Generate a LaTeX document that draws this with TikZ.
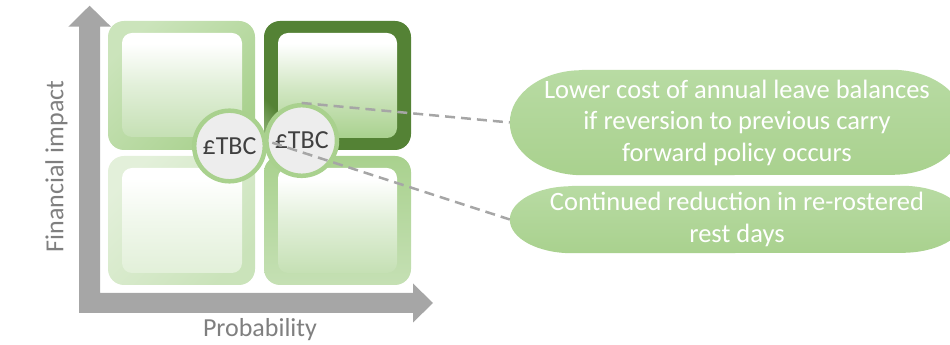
\documentclass[tikz,border=0pt]{standalone}
\usepackage{fontspec}
\setmainfont{Carlito}
\usetikzlibrary{calc,backgrounds}
\definecolor{axisgray}{HTML}{A6A6A6}
\definecolor{dkgreen}{HTML}{548235}
\definecolor{trlight}{HTML}{A3C48E}
\definecolor{gA}{HTML}{A9D18E}
\definecolor{gB}{HTML}{C5E0B4}
\definecolor{gC}{HTML}{E2F0D9}
\definecolor{tlLight}{HTML}{CBE4BB}
\definecolor{blLight}{HTML}{E3F0DA}
\definecolor{blDark}{HTML}{CAE3BA}
\definecolor{circfill}{HTML}{EDEDED}
\definecolor{textdark}{HTML}{404040}
\definecolor{labelgray}{HTML}{7F7F7F}
\definecolor{pilltop}{HTML}{B8DBA3}
\pgfdeclareverticalshading{innerTL}{100bp}{color(0bp)=(gB); color(25bp)=(gB); color(50bp)=(gB!50!white); color(70bp)=(white); color(100bp)=(white)}
\pgfdeclareverticalshading{innerTR}{100bp}{color(0bp)=(gA); color(25bp)=(gA); color(50bp)=(gA!50!white); color(70bp)=(white); color(100bp)=(white)}
\pgfdeclareverticalshading{innerBL}{100bp}{color(0bp)=(gC); color(25bp)=(gC); color(50bp)=(gC!50!white); color(70bp)=(white); color(100bp)=(white)}
\pgfdeclareverticalshading{innerBR}{100bp}{color(0bp)=(gB); color(25bp)=(gB); color(50bp)=(gB!50!white); color(70bp)=(white); color(100bp)=(white)}
\pgfdeclarehorizontalshading{ringTR}{100bp}{color(0bp)=(trlight); color(15bp)=(trlight); color(28bp)=(dkgreen); color(100bp)=(dkgreen)}
\begin{document}
\begin{tikzpicture}[x=1pt,y=1pt,
  outerbox/.style={rounded corners=16pt},
  innerbox/.style={rounded corners=10pt, shade},
  tbc/.style={circle, draw=gA, line width=4.5pt, fill=circfill, minimum size=70.6pt, inner sep=0pt,
    font=\fontsize{26}{30}\selectfont, text=textdark},
  pilltext/.style={align=center, inner sep=0pt, text=white, font=\fontsize{26.5}{31.5}\selectfont},
  pillfill/.style={top color=pilltop, bottom color=gA},
  dashline/.style={draw=axisgray, line width=2.5pt, dash pattern=on 10pt off 6pt},
  axislabel/.style={text=labelgray, font=\fontsize{26}{30}\selectfont, inner sep=0pt}]
\useasboundingbox (0,0) rectangle (950,345);
\clip (0,0) rectangle (950,345);
% axes
\fill[axisgray] (68.3,318.3) -- (89.6,339.3) -- (111,318.3) -- (100,318.3) -- (100,52) -- (413,52)
  -- (413,61.5) -- (433,42) -- (413,22.5) -- (413,32) -- (79,32) -- (79,318.3) -- cycle;
% quadrants
\path[outerbox, top color=tlLight, bottom color=gA, shading angle=45] (108,195) rectangle (255,324);
\path[innerbox, shading=innerTL] (122,208) rectangle (242,312);
\path[outerbox, shade, shading=ringTR, shading angle=45] (264,195) rectangle (411,324);
\path[innerbox, shading=innerTR] (278,207) rectangle (397,312);
\path[outerbox, top color=blLight, bottom color=blDark, shading angle=45] (108,60) rectangle (255,189);
\path[innerbox, shading=innerBL] (122,72) rectangle (242,177);
\path[outerbox, top color=gA, bottom color=gB] (264,60) rectangle (411,189);
\path[innerbox, shading=innerBR] (278,72) rectangle (397,177);
% circles
\node[tbc] (lc) at (229.5,199) {£TBC};
\node[tbc] (rc) at (301.7,204.5) {£TBC};
% pills
\node[pilltext, minimum width=454pt, minimum height=105pt] (p1) at (737,222.5)
  {Lower cost of annual leave balances\\if reversion to previous carry\\forward policy occurs};
\node[pilltext, minimum width=454pt, minimum height=67pt] (p2) at (737,125.5)
  {Continued reduction in re-rostered\\rest days};
\begin{scope}[on background layer]
\path[pillfill] ($(p1.north west)+(72,0)$) -- ($(p1.north east)+(-72,0)$)
  arc[start angle=90, end angle=-90, x radius=72pt, y radius=52.5pt]
  -- ($(p1.south west)+(72,0)$)
  arc[start angle=270, end angle=90, x radius=72pt, y radius=52.5pt] -- cycle;
\path[pillfill] ($(p2.north west)+(62,0)$) -- ($(p2.north east)+(-62,0)$)
  arc[start angle=90, end angle=-90, x radius=62pt, y radius=33.5pt]
  -- ($(p2.south west)+(62,0)$)
  arc[start angle=270, end angle=90, x radius=62pt, y radius=33.5pt] -- cycle;
\end{scope}
% connectors
\coordinate (s2) at (272.3,202.3);
\draw[dashline] (rc.north) -- (p1.west);
\draw[dashline] (s2) -- (p2.west);
% axis labels
\node[axislabel, anchor=base] (xl) at (260,8.3) {Probability};
\node[axislabel, anchor=base, rotate=90] (yl) at (63.3,178.5) {Financial impact};
\end{tikzpicture}
\end{document}
